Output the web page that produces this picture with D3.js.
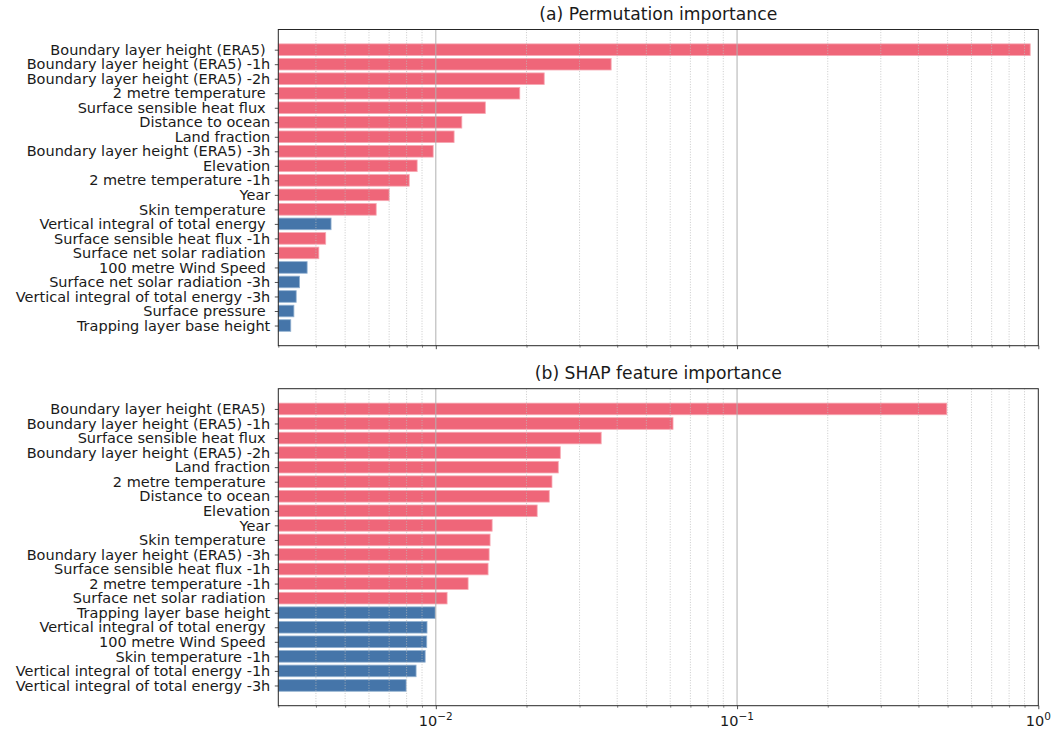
<!DOCTYPE html>
<html>
<head>
<meta charset="utf-8">
<script src="https://cdn.jsdelivr.net/npm/d3@7"></script>
<style>
  html, body { margin: 0; padding: 0; background: #fff; }
  svg { display: block; font-family: "DejaVu Sans", sans-serif; }
</style>
</head>
<body>
<svg id="chart" width="1051" height="729"></svg>
<script>
// Panel (a): permutation importance
const permFeatures = [
  "Boundary layer height (ERA5) ",
  "Boundary layer height (ERA5) -1h",
  "Boundary layer height (ERA5) -2h",
  "2 metre temperature ",
  "Surface sensible heat flux ",
  "Distance to ocean",
  "Land fraction",
  "Boundary layer height (ERA5) -3h",
  "Elevation",
  "2 metre temperature -1h",
  "Year",
  "Skin temperature ",
  "Vertical integral of total energy ",
  "Surface sensible heat flux -1h",
  "Surface net solar radiation ",
  "100 metre Wind Speed ",
  "Surface net solar radiation -3h",
  "Vertical integral of total energy -3h",
  "Surface pressure ",
  "Trapping layer base height"
];
const permValues = [
  0.94, 0.0382, 0.0229, 0.0190, 0.0146, 0.0122, 0.0115, 0.0098, 0.00867, 0.00816,
  0.0070, 0.00634, 0.00449, 0.00431, 0.00409, 0.00374, 0.00353, 0.00344, 0.00338, 0.00330
];
const permPositive = [
  true, true, true, true, true, true, true, true, true, true,
  true, true, false, true, true, false, false, false, false, false
];

// Panel (b): SHAP feature importance
const shapFeatures = [
  "Boundary layer height (ERA5) ",
  "Boundary layer height (ERA5) -1h",
  "Surface sensible heat flux ",
  "Boundary layer height (ERA5) -2h",
  "Land fraction",
  "2 metre temperature ",
  "Distance to ocean",
  "Elevation",
  "Year",
  "Skin temperature ",
  "Boundary layer height (ERA5) -3h",
  "Surface sensible heat flux -1h",
  "2 metre temperature -1h",
  "Surface net solar radiation ",
  "Trapping layer base height",
  "Vertical integral of total energy ",
  "100 metre Wind Speed ",
  "Skin temperature -1h",
  "Vertical integral of total energy -1h",
  "Vertical integral of total energy -3h"
];
const shapValues = [
  0.497, 0.0613, 0.0354, 0.0259, 0.0255, 0.0243, 0.0238, 0.0217, 0.01538, 0.01514,
  0.01503, 0.01491, 0.0128, 0.0109, 0.00995, 0.00935, 0.00933, 0.00922, 0.00860, 0.00797
];
const shapPositive = [
  true, true, true, true, true, true, true, true, true, true,
  true, true, true, true, false, false, false, false, false, false
];

const panelTitles = ["(a) Permutation importance", "(b) SHAP feature importance"];
const xDomain = [0.003, 1];
const majorTicks = [0.01, 0.1, 1];
const majorExponents = ["\u22122", "\u22121", "0"];

const svg = d3.select("#chart");
const left = 278.3, right = 1038.3;
const panels = [
  { top: 29.5, bottom: 345.7, feats: permFeatures, vals: permValues, pos: permPositive, labels: false },
  { top: 388.7, bottom: 705.7, feats: shapFeatures, vals: shapValues, pos: shapPositive, labels: true }
];

const x = d3.scaleLog().domain(xDomain).range([left, right]);

// Minor tick values: 2..9 × each decade inside the domain
const minorTicks = [];
[0.001, 0.01, 0.1].forEach(d => {
  for (let m = 2; m <= 9; m++) {
    const v = m * d;
    if (v >= xDomain[0] - 1e-12 && v < xDomain[1]) minorTicks.push(v);
  }
});

const colorPos = "#ef6679";
const colorNeg = "#4575a9";
const edgePos = "#f7a9b3";
const edgeNeg = "#94b2d1";

// keep trailing spaces of labels visible
const keepSpaces = s => s.replace(/ $/, "\u00a0");

panels.forEach((p, pi) => {
  const n = p.feats.length;
  const y = d3.scaleLinear()
    .domain([-0.4 - 0.05 * (n - 0.2), n - 0.6 + 0.05 * (n - 0.2)])
    .range([p.top, p.bottom]);
  const g = svg.append("g");

  // Bars
  g.selectAll("rect.bar")
    .data(p.vals)
    .join("rect")
    .attr("class", "bar")
    .attr("x", x(xDomain[0]))
    .attr("y", (d, i) => y(i - 0.4))
    .attr("width", d => x(d) - x(xDomain[0]))
    .attr("height", (d, i) => y(i + 0.4) - y(i - 0.4))
    .attr("fill", (d, i) => p.pos[i] ? colorPos : colorNeg)
    .attr("stroke", (d, i) => p.pos[i] ? edgePos : edgeNeg)
    .attr("stroke-width", 0.8);

  // Grid lines (minor dotted, major solid), drawn over the bars
  g.selectAll("line.minor")
    .data(minorTicks.filter(v => v > xDomain[0] * 1.001))
    .join("line")
    .attr("x1", d => x(d)).attr("x2", d => x(d))
    .attr("y1", p.top).attr("y2", p.bottom)
    .attr("stroke", "#bdbdbd")
    .attr("stroke-width", 0.8)
    .attr("stroke-dasharray", "1,1.6");
  g.selectAll("line.major")
    .data(majorTicks.filter(v => v < xDomain[1]))
    .join("line")
    .attr("x1", d => x(d)).attr("x2", d => x(d))
    .attr("y1", p.top).attr("y2", p.bottom)
    .attr("stroke", "#b0b0b0")
    .attr("stroke-width", 1);

  // Frame
  g.append("rect")
    .attr("x", left).attr("y", p.top)
    .attr("width", right - left).attr("height", p.bottom - p.top)
    .attr("fill", "none")
    .attr("stroke", "#262626")
    .attr("stroke-width", 1);

  // Y axis: category ticks and labels
  const yAxis = d3.axisLeft(d3.scaleLinear().domain(y.domain()).range(y.range()))
    .tickValues(d3.range(n))
    .tickSize(3.5)
    .tickPadding(4.5)
    .tickFormat(i => keepSpaces(p.feats[i]));
  const ya = g.append("g").attr("transform", `translate(${left},0)`).call(yAxis);
  ya.select(".domain").remove();
  ya.selectAll(".tick line").attr("stroke", "#262626").attr("stroke-width", 0.8);
  ya.selectAll(".tick text")
    .attr("fill", "#1a1a1a")
    .style("font-size", "14.5px")
    .style("font-family", "'DejaVu Sans', sans-serif");

  // X axis: major and minor ticks
  const xaMajor = d3.axisBottom(x).tickValues(majorTicks).tickSize(3.5).tickFormat("");
  const xaMinor = d3.axisBottom(x).tickValues(minorTicks).tickSize(2).tickFormat("");
  const gx = g.append("g").attr("transform", `translate(0,${p.bottom})`);
  gx.append("g").call(xaMinor).call(s => s.select(".domain").remove())
    .selectAll(".tick line").attr("stroke", "#262626").attr("stroke-width", 0.6);
  gx.append("g").call(xaMajor).call(s => s.select(".domain").remove())
    .selectAll(".tick line").attr("stroke", "#262626").attr("stroke-width", 0.8);

  if (p.labels) {
    majorTicks.forEach((v, k) => {
      const t = g.append("text")
        .attr("x", x(v))
        .attr("y", p.bottom + 20.5)
        .attr("text-anchor", "middle")
        .attr("fill", "#1a1a1a")
        .style("font-size", "14.5px");
      t.append("tspan").text("10");
      t.append("tspan")
        .attr("dy", -6)
        .style("font-size", "10.5px")
        .text(majorExponents[k]);
    });
  }

  // Panel title
  g.append("text")
    .attr("x", (left + right) / 2)
    .attr("y", p.top - 9.5)
    .attr("text-anchor", "middle")
    .attr("fill", "#1a1a1a")
    .style("font-size", "17.2px")
    .text(panelTitles[pi]);
});
</script>
</body>
</html>
